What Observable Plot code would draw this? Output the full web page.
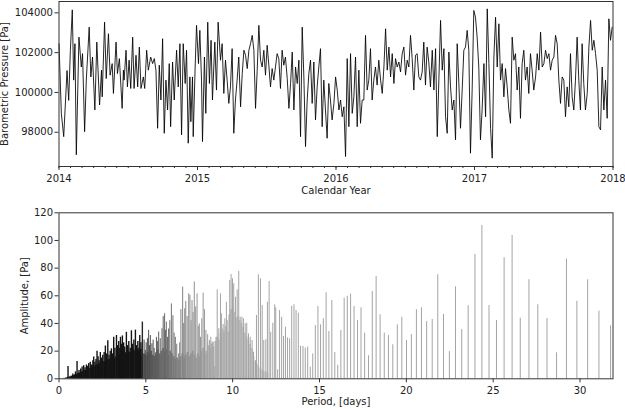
<!DOCTYPE html>
<html><head><meta charset="utf-8">
<script src="https://cdn.jsdelivr.net/npm/d3@7"></script>
<script src="https://cdn.jsdelivr.net/npm/@observablehq/plot@0.6"></script>
<style>
html,body{margin:0;padding:0;background:#fff;}
#chart{width:625px;height:409px;overflow:hidden;}
svg{display:block;}
</style></head><body><div id="chart"></div>
<script>
// ---------- top panel data ----------
const YEAR_TICKS = [2014, 2015, 2016, 2017, 2018];
const PRESSURE_TICKS = [98000, 100000, 102000, 104000];
// years since 2014-01-01
const T_YEARS = [
0.000,0.017,0.034,0.058,0.070,0.082,0.096,0.106,0.115,0.125,0.144,0.161,0.170,0.185,0.197,0.218,0.230,0.242,0.259,0.273,
0.293,0.307,0.312,0.329,0.341,0.357,0.369,0.384,0.393,0.412,0.422,0.436,0.456,0.465,0.470,0.484,0.494,0.506,0.518,0.532,
0.542,0.556,0.568,0.580,0.592,0.609,0.619,0.633,0.645,0.662,0.676,0.688,0.700,0.712,0.724,0.736,0.748,0.760,0.772,0.784,
0.796,0.806,0.820,0.832,0.849,0.861,0.873,0.885,0.897,0.911,0.921,0.933,0.945,0.952,0.964,0.969,0.983,0.993,1.007,1.017,
1.029,1.036,1.050,1.060,1.074,1.086,1.098,1.108,1.125,1.137,1.149,
1.166,1.178,1.190,1.202,1.214,1.226,1.238,1.250,1.262,1.274,1.286,1.298,1.311,1.323,1.335,1.347,1.359,1.371,1.383,1.395,
1.407,1.419,1.431,1.443,1.455,1.467,1.479,1.491,1.503,1.515,1.527,1.539,1.551,1.563,1.575,1.587,1.599,1.611,1.623,1.635,
1.648,1.660,1.672,1.684,1.696,1.708,1.720,1.732,1.744,1.756,1.768,1.780,1.792,1.804,1.816,1.828,1.840,1.852,1.864,1.876,
1.888,1.900,1.912,1.924,1.936,1.948,1.960,1.972,1.985,1.997,2.009,2.021,2.033,2.045,2.057,2.069,2.081,2.093,2.105,2.117,
2.129,2.141,2.153,2.165,2.177,2.189,2.201,2.213,2.225,2.237,2.249,2.261,2.273,2.285,2.297,2.309,2.322,2.334,2.346,2.358,
2.370,2.382,2.394,2.406,2.418,2.430,2.442,2.454,2.466,2.478,2.490,2.502,2.514,2.526,2.538,2.550,2.562,2.574,2.586,2.598,
2.610,
2.622,2.634,2.646,2.658,2.670,2.682,2.695,2.707,2.719,2.731,2.743,2.755,2.767,2.779,2.791,2.803,2.815,2.827,2.839,2.851,
2.863,2.875,2.887,2.899,2.911,2.923,2.935,2.947,2.959,2.971,2.983,2.995,3.007,3.019,3.031,3.043,3.055,3.068,3.080,3.092,
3.104,3.116,3.128,3.140,3.152,3.164,3.176,3.188,3.200,3.212,3.224,3.236,3.248,3.260,3.272,3.284,3.296,3.308,3.320,3.332,
3.344,3.356,3.368,3.380,3.392,3.404,3.416,3.428,3.441,3.453,3.465,3.477,3.489,3.501,3.513,3.525,3.537,3.549,3.561,3.573,
3.585,3.597,3.609,3.621,3.633,3.645,3.657,3.669,3.681,3.693,3.705,3.717,3.729,3.741,3.753,3.765,3.777,3.789,3.801,3.814,
3.826,3.838,3.850,3.862,3.874,3.886,3.898,3.910,3.922,3.934,3.946,3.958,3.970,3.982,3.994
];
const PRESSURE = [
102450,98950,97780,101100,99600,102100,104150,100620,102450,96870,102780,101280,101950,98030,100620,103280,100780,101780,99120,102530,
99370,101120,99780,103530,100700,102950,100870,101450,99950,102530,100950,101700,99200,101120,100620,102120,100280,101620,100200,102780,
100200,101870,100280,102280,100200,100780,100200,102120,101120,101780,101450,101700,101120,98200,101370,99620,102700,97950,100620,99120,
101450,98280,101530,99620,102120,100280,102450,97870,102450,100450,102120,97450,100780,98530,100780,97780,101280,103370,101450,103120,
100620,97530,101780,98950,103530,100450,102620,99620,102530,100120,103530,
101620,102450,99950,101620,100620,99450,100280,102200,97950,99620,100620,101780,99280,100950,102120,101870,101200,102120,102450,102870,
102120,99200,101120,103370,101620,101280,102120,100870,102370,101370,100280,101200,100620,101280,101950,101700,100200,102120,101370,101780,
100700,99200,100450,102030,99120,101280,100450,101620,97780,103280,100780,97280,99620,100950,101620,99450,101530,98620,100280,101280,
102200,98280,100620,99120,97700,100450,99620,98620,99450,100780,100120,99120,99620,98780,99280,96780,101700,98280,101950,98950,
99780,101780,98280,101120,98450,99620,99620,102870,100120,100620,102200,99620,100620,101280,100370,101620,100620,99950,101280,103200,
101120,102280,100780,101950,100450,101700,101280,101530,101030,101950,102280,100870,101620,101280,102870,101700,100120,101870,101950,100780,
100620,
101030,102530,100370,102280,101530,100280,102120,100120,102200,97780,100700,103620,101120,102200,98780,97950,102030,100280,99120,99620,
97620,102450,100450,98200,100120,102120,102280,103120,102120,96950,100120,104120,103780,102780,101280,97620,99120,101450,98780,104200,
101450,98200,96700,101780,103780,101280,103450,100620,101450,99780,101200,100280,99120,98450,102780,101620,101950,100120,101280,98700,
101450,102120,100620,101280,99950,101950,101120,100120,100780,101950,101120,103030,101280,101450,102120,101700,101950,101120,101620,101780,
102870,102450,100620,99450,100780,100620,98780,100280,99280,101950,99780,99120,100620,102780,100620,99120,102450,100450,99120,99950,
102280,103620,102120,102620,101950,101120,98280,98120,101280,99120,100620,98700,103700,102620,103280
];

// ---------- bottom panel data ----------
const PERIOD_TICKS = [0, 5, 10, 15, 20, 25, 30];
const AMP_TICKS = [0, 20, 40, 60, 80, 100, 120];
// individual spectral lines (period in days, amplitude in Pa)
const STEM_PERIOD = [
0.52,0.8,0.95,1.04,1.15,1.25,1.33,1.42,1.5,1.58,1.65,1.71,1.8,1.88,1.95,2.0,2.07,2.13,2.19,2.25,
2.31,2.38,2.45,2.52,2.6,2.67,2.74,2.81,2.88,2.95,3.02,3.08,3.15,3.22,3.31,3.38,3.44,3.5,3.54,3.6,
3.65,3.72,3.78,3.88,3.95,4.02,4.1,4.17,4.24,4.31,4.4,4.47,4.54,4.6,4.65,4.72,4.8,
4.9,4.97,5.02,5.09,5.16,5.21,5.26,5.35,5.42,5.48,5.55,5.61,5.68,5.74,5.83,5.93,6.0,6.08,6.13,6.18,
6.25,6.31,6.38,6.47,6.56,6.63,6.7,6.78,6.89,6.95,7.02,7.12,7.18,7.24,7.3,7.38,7.47,7.54,7.6,7.66,
7.72,7.79,7.87,7.95,8.02,8.08,8.15,
8.22,8.3,8.38,8.46,8.56,8.66,8.74,8.82,8.88,8.97,9.04,9.11,9.2,9.3,9.35,9.45,9.55,9.64,9.74,9.83,
9.91,9.99,10.06,10.16,10.26,10.35,10.43,10.53,10.62,10.72,10.81,10.91,11.01,11.12,11.2,11.31,11.37,11.48,11.6,11.7,
11.79,11.91,12.0,12.1,12.19,12.31,12.42,12.48,
12.59,12.70,12.82,12.93,13.04,13.16,13.28,13.40,13.53,13.65,13.78,13.91,14.05,14.18,14.32,14.47,14.61,14.76,14.91,15.06,
15.22,15.38,15.54,15.71,15.88,16.05,16.23,16.42,16.60,16.79,16.99,17.19,17.39,17.60,17.82,18.04,18.26,18.49,18.73,18.97,
19.22,19.48,19.74,20.01,20.29,20.58,20.87,21.17,21.49,21.81,22.14,22.48,22.83,23.19,23.56,23.95,24.35,24.76,25.19,25.63,
26.09,26.56,27.06,27.57,28.10,28.65,29.22,29.82,30.44,31.09,31.76
];
const STEM_AMP = [
8.9,3.5,5,12.5,6,7,8.5,9.5,8,10,9,11,12,10,13,15.8,12,14,20,16,
13,19,15,17,19,23.7,18,27.5,17,20,21.7,18,30,22,31.3,24,27,22,30,25,
31,26,23,33.6,24,27,22,34.7,25,28,35.2,24,27,22,31.3,26,41,
28,20.5,26,29,35,24,31.3,25.3,28,22,18,30,27,33.8,29,36.2,45,47,35,41,
30,36,42,54.1,45.6,33,30,25,18,26,50,66.3,40,50.6,56,45,61.4,60.3,42,56.6,
48,70,52,61.4,38,39.7,30,
43.4,61.9,50,35,32,27.7,30,26.5,26.5,8.9,30,64.3,36.2,61.4,47,39.3,43.4,55.4,33.7,71.1,
75.4,72.3,68.7,59,64.3,77.6,44.5,44.5,43.4,39.8,40.2,32.5,30.1,27.7,19.2,13.2,45.8,75.2,72.3,53,
27.7,28.2,55.4,70.4,33.7,40.2,53.5,51.3,
6.5,49.4,44.5,30.6,37.3,29.6,28.9,52.3,53.5,49.4,47.4,23.6,23.4,22.1,22.9,8.4,18.0,38.5,52.3,39.0,
43.4,62.2,34.2,56.6,19.0,9.8,34.9,58.3,59.7,61.2,52.3,42.2,51.3,33.0,16.6,63.1,74.0,46.3,33.0,31.3,
24.6,39.0,44.5,27.7,32.0,49.9,51.3,41.4,42.9,75.2,46.5,19.7,66.5,35.6,52.8,89.9,110.8,53.0,42.2,87.5,
103.6,43.8,71.6,53.5,43.6,18.8,86.5,56.1,71.6,48.9,38.3
];
// level of the densely packed lines (unresolved body of the spectrum)
const BAND_PERIOD = [
0.3,0.4,0.5,0.6,0.7,0.8,0.9,1.0,1.1,1.2,1.3,1.4,1.5,1.6,1.7,1.8,1.9,2.0,2.1,2.2,
2.3,2.4,2.5,2.6,2.7,2.8,2.9,3.0,3.1,3.2,3.3,3.4,3.5,3.6,3.7,3.8,3.9,4.0,4.1,4.2,
4.3,4.4,4.5,4.6,4.7,4.8,4.9,5.0,5.1,5.2,5.3,5.4,5.5,5.6,5.7,5.8,5.9,6.0,6.1,6.2,
6.3,6.4,6.5,6.6,6.7,6.8,6.9,7.0,7.1,7.2,7.3,7.4,7.5,7.6,7.7,7.8,7.9,8.0,8.1,8.2,
8.3,8.4,8.5,8.6,8.7,8.8,8.9,9.0,9.1,9.2,9.3,9.4,9.5,9.6,9.7,9.8,9.9,10.0,10.1,10.2,
10.3,10.4,10.5,10.6,10.7,10.8,10.9,11.0,11.1,11.2,11.3,11.4,11.5,11.6,11.7,11.8,11.9,12.0
];
const BAND_AMP = [
0.3,0.6,1.0,1.4,1.9,2.3,2.8,3.3,3.8,4.3,4.9,5.4,6.0,6.5,7.1,7.6,8.3,9.0,9.5,10.1,
10.8,11.2,12.0,12.5,13.0,13.6,14.0,14.7,15.3,15.0,16.1,16.9,17.5,16.9,18.2,18.8,18.2,19.5,18.8,19.8,
20.8,19.5,21.0,20.1,21.4,17,18,17,19,18,20,17,16,19,21,18,20,22,19,21,
17,20,18,16,14,15,13,16,18,15,17,19,16,18,20,17,15,18,16,20,
22,18,20,24,22,25,23,27,30,28,33,36,34,38,42,46,50,52,48,44,
45,42,40,37,33,30,28,25,22,16,12,10,8,7,6,5,5,4
];

// ---------- styling helpers ----------
const FONT = "DejaVu Sans, Liberation Sans, sans-serif";
const INK = "#222";
const MONTH_TICKS = d3.range(0, 49).map(m => 2014 + m / 12);
const stemShade = d3.scaleLinear()
  .domain([0, 4.75, 4.9, 6, 7.5, 9, 32])
  .range(["#141414", "#141414", "#4a4a4a", "#666666", "#8c8c8c", "#a4a4a4", "#a4a4a4"]).clamp(true);
const bandShade = d3.scaleLinear()
  .domain([0, 4.75, 4.9, 6, 7.5, 9, 12.5])
  .range(["#101010", "#101010", "#505050", "#707070", "#a3a3a3", "#c0c0c0", "#d2d2d2"]).clamp(true);

const series = T_YEARS.map((t, i) => ({year: 2014 + t, p: PRESSURE[i]}));
const stems = STEM_PERIOD.map((p, i) => ({p, a: STEM_AMP[i], c: stemShade(p), w: p < 4.85 ? 1.4 : 1}));
const band = BAND_PERIOD.map((p, i) => ({p, a: BAND_AMP[i], c: bandShade(p)}));

const topChart = Plot.plot({
  width: 625, height: 204,
  marginTop: 1, marginBottom: 38, marginLeft: 58.5, marginRight: 12.5,
  style: {fontFamily: FONT, fontSize: "10px", color: INK, background: "white"},
  x: {domain: [2014, 2018]},
  y: {domain: [96280, 104570]},
  marks: [
    Plot.axisX({ticks: MONTH_TICKS, tickSize: 2, tickFormat: () => "", label: null, stroke: "#333"}),
    Plot.axisX({ticks: YEAR_TICKS, tickSize: 4, tickPadding: 4, tickFormat: "d", label: null, stroke: "#333"}),
    Plot.axisY({ticks: PRESSURE_TICKS, tickSize: 4, tickPadding: 2, tickFormat: "d", label: null, stroke: "#333"}),
    Plot.lineY(series, {x: "year", y: "p", stroke: "#000", strokeWidth: 0.85}),
    Plot.frame({stroke: "#333", strokeWidth: 1}),
    Plot.text(["Calendar Year"], {frameAnchor: "bottom", dy: 24.5, text: d => d, textAnchor: "middle", lineAnchor: "middle", fill: INK}),
    Plot.text(["Barometric Pressure [Pa]"], {frameAnchor: "left", rotate: -90, dx: -54, text: d => d, textAnchor: "middle", lineAnchor: "middle", fill: INK})
  ]
});

const bottomChart = Plot.plot({
  width: 625, height: 205,
  marginTop: 8.3, marginBottom: 30.7, marginLeft: 58.5, marginRight: 12.5,
  style: {fontFamily: FONT, fontSize: "10px", color: INK, background: "white"},
  x: {domain: [0, 31.9]},
  y: {domain: [0, 120]},
  marks: [
    Plot.axisX({ticks: PERIOD_TICKS, tickSize: 4, tickPadding: 4, tickFormat: "d", label: null, stroke: "#333"}),
    Plot.axisY({ticks: AMP_TICKS, tickSize: 4, tickPadding: 2, tickFormat: "d", label: null, stroke: "#333"}),
    Plot.ruleX(band, {x: "p", y1: 0, y2: "a", stroke: "c", strokeWidth: 1.9}),
    Plot.ruleX(stems, {x: "p", y1: 0, y2: "a", stroke: "c", strokeWidth: "w"}),
    Plot.frame({stroke: "#333", strokeWidth: 1}),
    Plot.text(["Period, [days]"], {frameAnchor: "bottom", dy: 23, text: d => d, textAnchor: "middle", lineAnchor: "middle", fill: INK}),
    Plot.text(["Amplitude, [Pa]"], {frameAnchor: "left", rotate: -90, dx: -34.5, text: d => d, textAnchor: "middle", lineAnchor: "middle", fill: INK})
  ]
});

const root = document.getElementById("chart");
root.appendChild(topChart);
root.appendChild(bottomChart);
</script>
</body></html>
